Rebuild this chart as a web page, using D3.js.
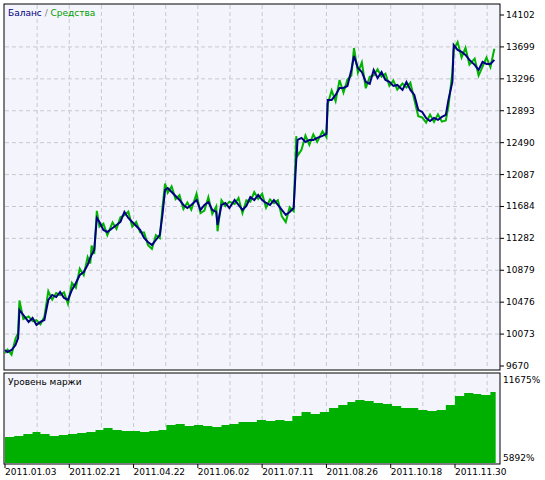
<!DOCTYPE html>
<html>
<head>
  <script src="https://d3js.org/d3.v7.min.js"></script>
  <style>
    body { margin: 0; background: #fff; }
    text { font-family: "DejaVu Sans", sans-serif; font-size: 9px; }
  </style>
</head>
<body>
  <svg id="chart"></svg>
  <script>
    // day offsets from 2011.01.03
    const days = [0,2,5,8,10,11,14,18,21,24,27,30,33,36,39,42,45,48,51,54,57,60,63,65,66,68,70,72,75,78,82,85,88,91,94,97,100,103,106,109,112,115,118,120,122,124,127,130,133,136,139,142,146,149,152,155,158,161,162,165,168,171,175,178,181,184,187,190,193,196,199,202,205,208,211,214,217,220,222,223,226,229,232,235,238,242,245,246,249,252,255,258,261,264,266,269,272,275,278,281,284,287,290,293,296,299,303,306,309,312,315,318,321,324,327,330,333,336,338,341,342,345,348,351,354,358,361,364,367,370,373]
    const balance = [9872,9847,9872,9935,10024,10377,10314,10226,10276,10188,10226,10251,10504,10567,10541,10605,10529,10504,10630,10718,10819,10857,10946,11034,11072,11135,11539,11489,11388,11362,11413,11451,11489,11615,11539,11489,11438,11388,11287,11236,11198,11261,11325,11577,11893,11918,11868,11817,11766,11703,11665,11703,11766,11640,11703,11741,11640,11615,11451,11703,11729,11665,11766,11703,11640,11691,11804,11766,11830,11766,11729,11703,11766,11703,11640,11577,11615,11665,12272,12524,12550,12499,12524,12524,12550,12575,12600,13030,13030,13093,13181,13181,13206,13408,13585,13434,13383,13257,13232,13408,13307,13383,13282,13257,13206,13219,13156,13257,13156,13093,12903,12878,12802,12764,12802,12777,12815,12840,13030,13257,13724,13661,13636,13598,13535,13472,13408,13509,13484,13484,13535]
    // equity minus balance
    const equityDiff = [-40,30,-60,80,60,120,-50,70,-40,60,-30,40,110,-60,50,-40,70,-50,90,-60,80,-40,100,-70,120,-50,90,-60,80,-40,70,-50,60,-40,80,-60,50,-30,70,-40,-50,60,-40,90,80,-60,70,-40,60,-50,70,-60,80,-40,-70,60,-50,70,-80,60,-40,80,-50,90,-40,70,-60,100,-50,80,-60,70,-40,60,-80,-90,60,-40,300,-200,-150,80,-60,70,-50,60,-40,-50,120,-80,100,-60,80,-70,100,-60,120,-80,90,-70,110,-60,80,-50,70,-60,80,-70,90,-60,-80,-70,-60,80,-50,70,-60,-70,-80,120,-60,100,-70,90,-60,80,-70,-60,80,-40,140]
    const marginDays = [0,7,14,21,27,34,41,48,55,62,69,75,82,89,96,103,110,117,123,130,137,144,151,158,165,171,178,185,192,199,206,213,219,226,233,240,247,254,261,267,274,281,288,295,302,309,315,322,329,336,343,350,357,363,370,374]
    const margin = [7448,7522,7670,7819,7670,7522,7596,7670,7745,7819,7967,8115,7967,7893,7893,7819,7893,7967,8337,8411,8263,8337,8263,8189,8337,8411,8560,8560,8708,8634,8708,8634,9004,9301,9152,9301,9597,9819,10042,10190,10116,9968,9893,9745,9597,9597,9449,9375,9449,9819,10486,10709,10634,10560,10783,10931]
    const valueTicks = [9670,10073,10476,10879,11282,11684,12087,12490,12893,13296,13699,14102]
    const dateTicks = ["2011.01.03","2011.02.21","2011.04.22","2011.06.02","2011.07.11","2011.08.26","2011.10.18","2011.11.30"]

    const W = 545, H = 480
    const svg = d3.select("#chart").attr("width", W).attr("height", H)
    const left = 4, right = 500
    const top1 = 4, bot1 = 370, top2 = 373, bot2 = 464

    const x = d3.scaleLinear().domain([0, 343]).range([5, 455])
    const y = d3.scaleLinear().domain([9670, 14102]).range([366, 15])
    const ym = d3.scaleLinear().domain([5892, 11675]).range([458, 380])

    svg.append("rect").attr("x", left).attr("y", top1).attr("width", right - left).attr("height", bot1 - top1)
      .attr("fill", "#f4f4fc").attr("stroke", "#000")
    svg.append("rect").attr("x", left).attr("y", top2).attr("width", right - left).attr("height", bot2 - top2)
      .attr("fill", "#f4f4fc").attr("stroke", "#000")

    // vertical grid
    const vgrid = d3.range(0, 374, 24.5)
    ;[[top1, bot1], [top2, bot2]].forEach(([a, b]) => {
      svg.selectAll(null).data(vgrid.slice(1)).enter().append("line")
        .attr("x1", d => x(d)).attr("x2", d => x(d)).attr("y1", a + 1).attr("y2", b - 1)
        .attr("stroke", "#c8c8d0").attr("stroke-dasharray", "4,3")
    })
    svg.selectAll(null).data(valueTicks.slice(1, -1)).enter().append("line")
      .attr("x1", left + 1).attr("x2", right - 1).attr("y1", d => y(d)).attr("y2", d => y(d))
      .attr("stroke", "#c8c8d0").attr("stroke-dasharray", "4,3")

    // equity and balance
    const line = d3.line().x(d => x(d[0])).y(d => y(d[1]))
    const eq = days.map((d, i) => [d, balance[i] + (equityDiff[i] || 0)])
    const bal = days.map((d, i) => [d, balance[i]])
    svg.append("path").attr("d", line(eq)).attr("fill", "none").attr("stroke", "#00b400").attr("stroke-width", 2)
    svg.append("path").attr("d", line(bal)).attr("fill", "none").attr("stroke", "#000080").attr("stroke-width", 2)

    // margin level
    const area = d3.area().x(d => x(d[0])).y0(bot2 - 1).y1(d => ym(d[1])).curve(d3.curveStepAfter)
    svg.append("path").attr("d", area(marginDays.map((d, i) => [d, margin[i]]))).attr("fill", "#00b000")

    // axes labels
    svg.selectAll(null).data(valueTicks).enter().append("text")
      .attr("x", 506).attr("y", d => y(d) + 3).text(d => d)
    svg.append("text").attr("x", 503).attr("y", 383).text("11675%")
    svg.append("text").attr("x", 503).attr("y", 461).text("5892%")
    svg.selectAll(null).data(dateTicks).enter().append("text")
      .attr("x", (d, i) => x(i * 49)).attr("y", 475).text(d => d)
    svg.selectAll(null).data(dateTicks).enter().append("line")
      .attr("x1", (d, i) => x(i * 49)).attr("x2", (d, i) => x(i * 49)).attr("y1", bot2).attr("y2", bot2 + 4).attr("stroke", "#000")
    svg.selectAll(null).data(valueTicks).enter().append("line")
      .attr("x1", right).attr("x2", right + 4).attr("y1", d => y(d)).attr("y2", d => y(d)).attr("stroke", "#000")

    const lg = svg.append("text").attr("x", 8).attr("y", 16)
    lg.append("tspan").attr("fill", "#000080").text("Баланс")
    lg.append("tspan").attr("fill", "#808080").text(" / ")
    lg.append("tspan").attr("fill", "#00a000").text("Средства")
    svg.append("text").attr("x", 8).attr("y", 385).attr("fill", "#000").text("Уровень маржи")
  </script>
</body>
</html>
